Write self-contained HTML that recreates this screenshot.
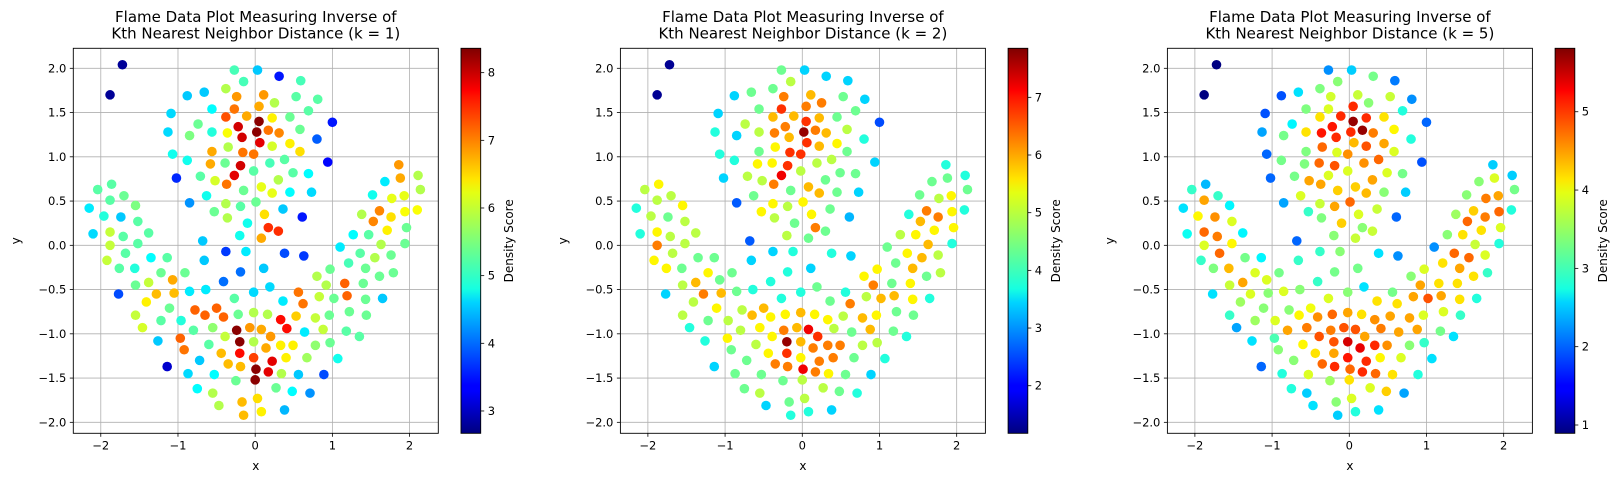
<!DOCTYPE html>
<html><head><meta charset="utf-8">
<style>
html,body{margin:0;padding:0;background:#fff;}
svg{display:block;font-family:"DejaVu Sans","Liberation Sans",sans-serif;}
</style></head>
<body>
<svg id="fig" xmlns="http://www.w3.org/2000/svg" width="1622" height="486" viewBox="0 0 1622 486">
<defs>
<linearGradient id="jet" x1="0" y1="1" x2="0" y2="0">
<stop offset="0" stop-color="#00007f"/>
<stop offset="0.11" stop-color="#0000ff"/>
<stop offset="0.125" stop-color="#0000ff"/>
<stop offset="0.34" stop-color="#00d4ff"/>
<stop offset="0.375" stop-color="#16ffe1"/>
<stop offset="0.5" stop-color="#7dff7a"/>
<stop offset="0.625" stop-color="#e4ff13"/>
<stop offset="0.66" stop-color="#ffe600"/>
<stop offset="0.875" stop-color="#ff1300"/>
<stop offset="0.89" stop-color="#ff0000"/>
<stop offset="1" stop-color="#7f0000"/>
</linearGradient>
</defs>
</svg>
<script>
const xs=[-1.72,-1.88,-0.27,-0.15,-0.88,-0.66,-0.38,-0.24,-1.09,-0.56,-0.27,-0.38,-0.11,-0.74,-0.22,-0.17,-1.13,-0.85,-0.56,-0.36,-0.35,-0.16,-0.56,-1.07,-0.88,-0.58,-0.39,-0.19,-0.27,-1.02,-0.71,-0.52,-0.37,-0.15,-2.04,-1.86,-1.88,-1.70,-1.55,-2.15,-1.96,-1.74,-1.52,-0.85,-0.63,-0.38,-0.53,-0.36,-0.19,-0.10,
0.03,0.31,0.59,0.11,0.25,0.53,0.81,0.05,0.69,0.05,0.22,0.45,1.00,0.02,0.17,0.31,0.58,0.06,0.22,0.45,0.58,0.80,-0.02,0.19,0.38,0.94,-0.02,0.49,0.69,0.08,0.30,0.22,0.45,0.73,0.01,0.36,0.61,0.12,0.17,0.30,
1.86,1.88,2.11,2.14,1.68,1.77,1.93,1.52,1.61,1.76,1.94,2.10,1.53,1.38,1.96,1.71,1.27,1.47,
-2.10,-1.88,-1.71,-1.38,-1.88,-1.68,-1.52,-1.92,-1.76,-1.56,-1.35,-1.14,-1.22,-0.91,-0.68,-0.38,-0.66,-0.19,-0.41,-0.12,-0.20,-1.55,-1.38,-1.07,-1.77,-1.28,-1.05,-0.85,-0.64,-1.41,-1.11,-0.78,-0.65,-0.50,-0.41,-0.27,-0.22,-1.55,-1.46,-1.22,-0.96,-0.80,-0.55,-0.39,-0.24,-0.20,-0.07,-1.26,-0.97,-0.92,-0.60,-0.44,-0.20,-1.14,-0.72,-0.35,-0.19,-0.87,-0.53,-0.25,-0.75,-0.55,-0.47,-0.17,-0.15,
0.08,0.38,0.63,0.11,0.19,-0.02,0.36,0.56,0.62,-0.02,0.16,0.33,0.41,0.53,0.08,0.20,0.64,-0.02,0.14,0.33,0.49,-0.02,0.22,0.40,0.01,0.00,0.17,0.34,0.56,0.89,0.27,0.48,0.71,0.03,0.08,0.38,
0.80,0.97,0.92,0.83,1.02,0.78,0.88,0.96,0.78,0.97,0.67,1.07,1.16,1.19,1.22,1.18,1.35,1.44,1.43,1.40,1.65,1.43,1.21,1.36,1.55,1.61,1.79,1.76,1.63,1.94,1.10];
const ys=[2.04,1.70,1.98,1.85,1.69,1.73,1.77,1.68,1.49,1.54,1.54,1.45,1.46,1.37,1.34,1.22,1.28,1.24,1.28,1.27,1.11,1.05,1.06,1.03,0.96,0.92,0.93,0.90,0.79,0.76,0.78,0.73,0.69,0.62,0.63,0.69,0.51,0.56,0.45,0.42,0.33,0.32,0.27,0.48,0.56,0.47,0.38,0.31,0.44,0.25,
1.98,1.91,1.86,1.70,1.61,1.68,1.65,1.57,1.52,1.40,1.44,1.45,1.39,1.28,1.30,1.27,1.31,1.16,1.12,1.15,1.06,1.20,1.03,0.93,0.97,0.94,0.84,0.82,0.81,0.66,0.74,0.59,0.60,0.60,0.49,0.41,0.32,0.35,0.20,0.16,
0.91,0.76,0.79,0.63,0.72,0.53,0.56,0.57,0.39,0.32,0.38,0.40,0.27,0.35,0.20,0.17,0.12,0.12,
0.13,0.15,0.10,0.14,0.00,-0.09,0.02,-0.17,-0.26,-0.26,-0.14,-0.14,-0.31,-0.31,0.05,-0.07,-0.17,-0.30,-0.41,-0.07,0.11,-0.45,-0.42,-0.39,-0.55,-0.55,-0.54,-0.52,-0.50,-0.64,-0.71,-0.73,-0.79,-0.71,-0.81,-0.60,-0.78,-0.79,-0.93,-0.85,-0.85,-0.96,-0.93,-1.03,-0.96,-1.09,-0.93,-1.08,-1.05,-1.18,-1.12,-1.22,-1.22,-1.37,-1.30,-1.34,-1.37,-1.45,-1.46,-1.53,-1.62,-1.67,-1.81,-1.77,-1.92,
0.08,-0.09,-0.12,-0.26,-0.47,-0.53,-0.63,-0.53,-0.66,-0.76,-0.78,-0.84,-0.94,-0.80,-0.95,-1.03,-0.98,-1.09,-1.16,-1.13,-1.13,-1.27,-1.31,-1.27,-1.40,-1.52,-1.43,-1.45,-1.46,-1.46,-1.61,-1.65,-1.67,-1.73,-1.88,-1.86,
-0.35,-0.27,-0.45,-0.58,-0.60,-0.82,-0.95,-0.79,-1.13,-1.10,-1.27,-1.28,-0.43,-0.57,-0.75,-0.97,-1.03,-0.79,-0.61,-0.43,-0.60,-0.26,-0.20,-0.09,-0.14,-0.35,-0.31,-0.11,0.01,0.02,-0.02];
const scoreK1=[2.8,2.8,5.2,5.2,4.5,4.5,5.8,6.8,4.6,4.8,7.0,7.2,6.7,5.4,7.9,7.9,4.6,5.5,5.0,6.2,5.8,7.0,6.7,4.9,4.9,6.7,5.4,7.9,7.8,3.6,5.3,6.0,7.0,5.4,5.3,5.3,5.3,5.4,5.5,4.7,5.0,4.5,5.3,4.2,4.9,5.8,5.4,5.8,5.3,4.9,
4.5,3.5,5.2,6.8,5.8,5.3,5.3,6.7,5.3,8.3,6.3,5.4,3.5,8.3,7.0,6.9,5.4,7.8,6.0,6.3,6.4,3.9,7.0,5.2,5.3,3.4,5.3,5.3,4.8,6.1,5.8,6.1,4.8,4.6,5.4,4.5,3.5,6.4,7.4,7.4,
6.8,6.7,5.8,5.8,4.7,6.1,6.1,4.9,6.9,6.4,6.2,6.2,6.9,5.8,5.4,6.3,4.8,5.3,
4.6,5.9,5.3,5.3,5.9,5.3,5.3,5.9,5.3,5.0,4.8,5.3,5.4,5.4,4.5,3.7,4.5,4.0,4.0,4.7,4.9,5.4,5.9,6.7,3.8,6.6,6.6,4.7,4.7,6.3,5.4,7.1,7.1,7.1,7.1,5.3,5.4,5.9,6.0,5.3,5.0,5.3,5.6,5.9,8.3,8.3,6.8,4.5,7.1,7.0,5.3,6.6,7.6,3.1,4.5,6.6,6.6,4.6,4.8,5.4,4.8,5.8,5.8,6.6,6.6,
6.7,3.8,3.7,4.5,4.6,4.6,4.7,7.0,7.0,5.8,5.8,7.6,7.6,6.5,6.7,6.8,4.7,5.8,6.7,6.3,6.3,7.3,7.8,6.3,8.3,8.3,7.8,5.8,4.5,3.8,5.4,4.8,4.2,6.4,6.3,4.4,
5.8,5.4,5.8,5.9,5.4,5.9,5.9,5.4,5.6,5.4,5.7,4.9,7.1,7.1,5.4,5.3,5.3,5.4,5.4,5.4,4.5,5.4,5.2,5.3,5.8,5.4,5.4,5.4,5.8,5.4,4.7];
const scoreK2=[1.3,1.3,4.4,4.9,3.4,4.4,4.4,6.2,3.4,4.4,6.7,5.8,5.8,4.9,6.2,5.8,3.9,3.4,4.9,6.2,5.4,6.7,4.4,3.9,3.9,5.4,5.4,6.7,7.1,3.4,4.9,4.9,6.2,4.4,4.9,5.4,4.9,4.9,5.4,3.9,4.9,4.4,4.9,2.6,4.4,5.4,5.4,4.9,4.9,4.4,
3.4,3.4,3.4,5.8,6.2,4.4,3.4,6.2,4.4,6.7,5.8,4.4,2.5,7.7,6.2,5.8,4.9,6.7,5.8,5.4,4.4,3.9,6.7,4.9,4.9,3.4,4.9,4.4,4.4,5.8,4.4,5.8,4.4,3.4,5.4,4.4,3.2,5.4,6.2,4.4,
3.9,4.4,3.9,4.4,4.4,4.9,5.4,4.4,6.2,6.2,5.4,3.9,5.8,3.9,5.4,5.4,4.9,5.4,
3.9,5.4,4.9,4.9,6.2,4.9,4.9,5.4,5.4,4.4,4.4,4.4,5.4,4.4,2.6,3.4,3.4,3.9,3.9,3.9,4.9,4.9,5.8,4.4,3.4,6.2,5.8,4.4,3.9,4.9,5.4,4.9,5.8,5.8,5.4,3.9,5.4,4.9,3.9,4.4,4.9,4.9,5.4,5.4,6.2,7.7,5.8,3.9,5.4,4.4,4.9,5.4,6.7,3.4,4.4,6.2,6.2,4.4,4.4,4.4,4.4,4.9,3.4,4.4,3.9,
4.4,3.9,3.4,3.4,4.4,3.9,4.4,3.9,6.2,5.8,5.4,5.4,4.9,4.9,7.1,6.7,4.4,5.8,6.2,6.2,6.2,5.4,6.2,6.2,7.1,4.9,6.2,5.4,4.4,3.4,4.9,4.4,3.9,4.9,3.9,3.4,
5.4,5.4,6.2,4.9,5.8,5.8,5.8,5.4,4.9,4.9,4.4,3.9,4.4,5.8,4.4,4.4,3.9,4.4,5.4,5.4,3.9,5.8,4.4,5.4,5.8,4.4,4.9,4.9,5.8,3.9,4.4];
const scoreK5=[0.9,0.9,2.2,3.4,1.9,2.6,3.35,3.75,1.9,3.35,3.8,4.1,5.0,2.7,5.1,5.0,2.3,3.3,4.1,5.1,4.7,3.8,3.35,2.0,3.3,3.35,4.7,4.8,3.8,2.0,3.3,4.4,4.4,4.2,3.0,2.4,4.4,3.0,2.7,2.6,4.0,4.5,3.8,2.3,3.8,3.7,3.0,3.35,4.4,4.2,
2.5,3.3,2.1,3.7,3.4,3.7,2.2,5.0,2.9,5.7,5.0,4.1,2.0,5.0,5.7,4.6,4.0,4.3,4.8,4.4,3.8,2.9,4.5,4.5,4.7,1.9,3.8,3.8,3.3,4.2,4.4,4.3,3.4,2.5,4.7,3.7,2.0,3.8,3.4,3.7,
2.5,3.8,2.5,3.3,3.4,4.6,4.4,3.4,4.2,4.6,4.7,2.9,4.7,3.5,3.8,4.1,3.4,4.1,
2.8,4.7,4.6,2.7,3.8,4.7,4.0,3.0,3.35,4.3,3.3,2.7,3.8,3.3,2.0,3.0,3.0,3.3,3.0,3.4,3.4,3.7,4.4,3.8,2.6,3.8,3.4,3.8,3.4,3.5,3.4,3.4,4.0,3.9,4.5,3.8,4.7,3.0,2.3,3.5,3.8,4.4,4.6,4.8,4.6,4.8,4.8,2.6,3.1,3.4,4.0,4.1,4.4,2.0,3.4,4.7,5.0,2.9,3.8,3.5,2.9,2.5,2.6,3.4,2.5,
3.7,2.6,2.2,3.3,2.6,3.4,4.1,3.3,4.1,4.4,4.1,4.5,4.6,4.4,4.8,4.4,4.4,5.4,5.3,5.0,4.5,5.1,5.0,4.0,4.7,4.1,5.0,4.7,4.1,2.9,3.8,4.2,2.3,3.8,2.9,2.6,
3.4,3.8,4.4,4.4,4.8,4.4,4.4,3.8,3.4,3.0,3.8,2.6,4.1,4.4,3.8,3.3,2.6,3.0,4.1,4.1,2.9,4.4,4.1,4.7,4.7,4.1,3.0,3.8,3.7,2.9,2.2];
const panelK=[1,2,5];
const cbTicksK1=[3,4,5,6,7,8];
const cbTicksK2=[2,3,4,5,6,7];
const cbTicksK5=[1,2,3,4,5];
const xTicks=[-2,-1,0,1,2];
const yTicks=[-2.0,-1.5,-1.0,-0.5,0.0,0.5,1.0,1.5,2.0];

const NS="http://www.w3.org/2000/svg";
const svg=document.getElementById('fig');
function mk(tag,attrs,parent){const e=document.createElementNS(NS,tag);for(const k in attrs)e.setAttribute(k,attrs[k]);(parent||svg).appendChild(e);return e;}
function jet(t){t=Math.max(0,Math.min(1,t));
 const r=Math.max(0,Math.min(1,1.5-Math.abs(4*t-3)));
 const g=Math.max(0,Math.min(1,1.5-Math.abs(4*t-2)));
 const b=Math.max(0,Math.min(1,1.5-Math.abs(4*t-1)));
 return 'rgb('+Math.round(r*255)+','+Math.round(g*255)+','+Math.round(b*255)+')';}

const panels=[
 {off:0,scores:scoreK1,vmin:2.67,vmax:8.36,ticks:cbTicksK1},
 {off:547.1,scores:scoreK2,vmin:1.175,vmax:7.85,ticks:cbTicksK2},
 {off:1094.1,scores:scoreK5,vmin:0.894,vmax:5.81,ticks:cbTicksK5}
];
const L=73.3,R=438.3,T=48.3,B=433.3,X0=-2.356,X1=2.372,Y0=-2.124,Y1=2.226;
const CBL=461,CBW=19.7;

panels.forEach((p,pi)=>{
 const o=p.off;
 const sx=v=>o+L+(v-X0)/(X1-X0)*(R-L);
 const sy=v=>B-(v-Y0)/(Y1-Y0)*(B-T);
 const g=mk('g',{});
 
 
 // title
 const t1=mk('text',{x:o+(L+R)/2,y:22,'text-anchor':'middle','font-size':15,fill:'#000'},g);
 t1.textContent='Flame Data Plot Measuring Inverse of';
 
 
 const t2=mk('text',{x:o+(L+R)/2,y:38.5,'text-anchor':'middle','font-size':15,fill:'#000'},g);
 t2.textContent='Kth Nearest Neighbor Distance (k = '+panelK[pi]+')';
 
 
 // grid
 xTicks.forEach(v=>{
  const ln=mk('line',{x1:sx(v),x2:sx(v),y1:T,y2:B,stroke:'#b0b0b0','stroke-width':0.8},g);
  
  
  const tk=mk('line',{x1:sx(v),x2:sx(v),y1:B,y2:B+3.5,stroke:'#000','stroke-width':0.8},g);
  
  
  const tl=mk('text',{x:sx(v),y:B+16,'text-anchor':'middle','font-size':11.5,fill:'#000'},g);
  tl.textContent=(v<0?'\u2212':'')+Math.abs(v);
  
  
 });
 yTicks.forEach(v=>{
  const ln=mk('line',{x1:o+L,x2:o+R,y1:sy(v),y2:sy(v),stroke:'#b0b0b0','stroke-width':0.8},g);
  
  
  const tk=mk('line',{x1:o+L-3.5,x2:o+L,y1:sy(v),y2:sy(v),stroke:'#000','stroke-width':0.8},g);
  
  
  const tl=mk('text',{x:o+L-7,y:sy(v)+4,'text-anchor':'end','font-size':11.5,fill:'#000'},g);
  tl.textContent=(v<0?'\u2212':'')+Math.abs(v).toFixed(1);
  
  
 });
 // points
 for(let i=0;i<xs.length;i++){
  const c=mk('circle',{cx:sx(xs[i]),cy:sy(ys[i]),r:4.8,fill:jet((p.scores[i]-p.vmin)/(p.vmax-p.vmin))},g);
  
  
 }
 // frame
 const fr=mk('rect',{x:o+L,y:T,width:R-L,height:B-T,fill:'none',stroke:'#000','stroke-width':0.9},g);
 
 
 const xl=mk('text',{x:o+(L+R)/2,y:470,'text-anchor':'middle','font-size':12,fill:'#000'},g);
 xl.textContent='x';
 
 
 const yl=mk('text',{x:0,y:0,'text-anchor':'middle','font-size':12,fill:'#000',transform:'translate('+(o+20)+','+((T+B)/2)+') rotate(-90)'},g);
 yl.textContent='y';
 
 
 // colorbar
 const cb=mk('rect',{x:o+CBL,y:T,width:CBW,height:B-T,fill:'url(#jet)',stroke:'#000','stroke-width':0.9},g);
 
 
 const cy=v=>B-(v-p.vmin)/(p.vmax-p.vmin)*(B-T);
 p.ticks.forEach(v=>{
  const tk=mk('line',{x1:o+CBL+CBW,x2:o+CBL+CBW+3.5,y1:cy(v),y2:cy(v),stroke:'#000','stroke-width':0.8},g);
  
  
  const tl=mk('text',{x:o+CBL+CBW+7,y:cy(v)+4,'font-size':11.5,fill:'#000'},g);
  tl.textContent=String(v);
  
  
 });
 const cl=mk('text',{x:0,y:0,'text-anchor':'middle','font-size':12,fill:'#000',transform:'translate('+(o+513)+','+((T+B)/2)+') rotate(-90)'},g);
 cl.textContent='Density Score';
 
 
});
</script>
</body></html>
